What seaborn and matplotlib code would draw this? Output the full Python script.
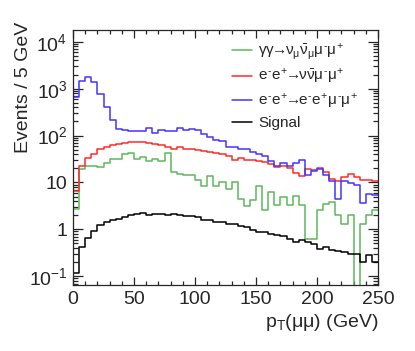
import numpy as np
import pandas as pd
import matplotlib
matplotlib.use('Agg')
import matplotlib.pyplot as plt
from matplotlib.ticker import MultipleLocator, LogLocator, NullFormatter
import seaborn as sns

# pT(mumu) histograms, 5 GeV bins from 0 to 250
edges = np.arange(0, 255, 5)

gg_numu = [2.7, 19, 22, 22, 21, 26, 32, 31, 40, 42,
           31, 35, 29, 31, 29, 42, 17, 15, 14.5, 14.5,
           11.5, 8.5, 13.5, 8.3, 10, 7.2, 10, 4.5, 3.2, 4.3,
           8.3, 2.6, 6.3, 3.3, 4.8, 3.3, 5.1, 3.3, 0.63, 0.63,
           2.6, 3.4, 3.8, 2.0, 1.3, 2.0, 0, 1.3, 2.0, 2.6]
ee_nunu = [6.5, 22, 34, 41, 51, 56, 63, 66, 68, 72,
           74, 74, 68, 66, 63, 56, 53, 56, 51, 53,
           49, 46, 44, 42, 40, 37, 30, 33, 30, 30,
           28, 27, 25, 21, 23, 20, 16, 14, 19, 18.5,
           20, 16.5, 12, 10.5, 13.4, 14.8, 13, 11.5, 11.5, 10.5]
ee_ee = [650, 1480, 1780, 1360, 780, 400, 220, 138, 130, 124,
         126, 126, 145, 116, 134, 128, 127, 145, 132, 136,
         130, 110, 94, 79, 78, 57, 57, 51, 53, 44,
         41, 37, 28, 22, 26, 22, 26, 30, 14.5, 17.5,
         19, 14.5, 11, 4.4, 11, 9.6, 9, 3.7, 5.6, 5.4]
signal = [0.12, 0.42, 0.66, 0.91, 1.23, 1.45, 1.6, 1.7, 1.85, 2.0,
          2.1, 2.25, 2.0, 2.15, 2.15, 2.0, 2.1, 2.0, 1.95, 1.9,
          1.85, 1.62, 1.58, 1.45, 1.42, 1.32, 1.28, 1.17, 1.14, 0.96,
          0.87, 0.87, 0.81, 0.74, 0.72, 0.63, 0.54, 0.58, 0.54, 0.49,
          0.38, 0.43, 0.37, 0.35, 0.33, 0.30, 0.30, 0.20, 0.28, 0.20]

arrow = r'\!\!\rightarrow\!\!'
labels = [r'$\gamma\gamma' + arrow + r'\nu_{\mu}\bar{\nu}_{\mu}\mu^{\text{-}}\mu^{+}$',
          r'$e^{\text{-}}e^{+}' + arrow + r'\nu\bar{\nu}\mu^{\text{-}}\mu^{+}$',
          r'$e^{\text{-}}e^{+}' + arrow + r'e^{\text{-}}e^{+}\mu^{\text{-}}\mu^{+}$',
          'Signal']
colors = ['#5cb85c', '#ff2a2a', '#4433ff', 'black']

sns.set_style('ticks')
plt.rcParams['font.family'] = ['Liberation Sans', 'DejaVu Sans']
plt.rcParams['mathtext.fontset'] = 'custom'
plt.rcParams['mathtext.rm'] = 'Liberation Sans'
plt.rcParams['mathtext.it'] = 'Liberation Sans'
plt.rcParams['mathtext.bf'] = 'Liberation Sans:bold'

rows = []
for lab, vals in zip(labels, [gg_numu, ee_nunu, ee_ee, signal]):
    xs = [0] + list(edges[:-1]) + [250]
    ys = [0] + list(vals) + [vals[-1]]
    for x, y in zip(xs, ys):
        rows.append((lab, x, y))
df = pd.DataFrame(rows, columns=['process', 'pt', 'events'])

fig = plt.figure(figsize=(4.15, 3.51), dpi=100)
ax = fig.add_axes([0.176, 0.188, 0.735, 0.727])
sns.lineplot(data=df, x='pt', y='events', hue='process', hue_order=labels,
             palette=colors, estimator=None, sort=False,
             drawstyle='steps-post', linewidth=1.1, ax=ax)
ax.set_yscale('log')
ax.set_xlim(0, 250)
ax.set_ylim(0.065, 1.8e4)

ax.set_yticks([0.1, 1, 10, 100, 1000, 10000])
ax.set_yticklabels([r'$10^{-1}$', '1', '10', r'$10^{2}$', r'$10^{3}$', r'$10^{4}$'])
ax.yaxis.set_minor_locator(LogLocator(base=10, subs=np.arange(2, 10)))
ax.yaxis.set_minor_formatter(NullFormatter())
ax.xaxis.set_major_locator(MultipleLocator(50))
ax.xaxis.set_minor_locator(MultipleLocator(10))

ax.tick_params(which='both', direction='in', top=True, right=True,
               labelsize=14, width=0.9)
ax.tick_params(axis='x', which='major', length=6, pad=4)
ax.tick_params(axis='x', which='minor', length=3)
ax.tick_params(axis='y', which='major', length=7, pad=4)
ax.tick_params(axis='y', which='minor', length=3.5)
for s in ax.spines.values():
    s.set_linewidth(0.9)

ax.set_xlabel(r'p$_{T}$($\mu\mu$) (GeV)', fontsize=14, loc='right', labelpad=3)
ax.set_ylabel('Events / 5 GeV', fontsize=14, loc='top')
ax.yaxis.set_label_coords(-0.134, 1.031)

ax.legend(loc='upper left', bbox_to_anchor=(0.521, 0.953), frameon=False,
          fontsize=11, handlelength=1.3, handletextpad=0.4,
          labelspacing=0.35, borderpad=0, borderaxespad=0)

fig.savefig('out.png', dpi=100)
